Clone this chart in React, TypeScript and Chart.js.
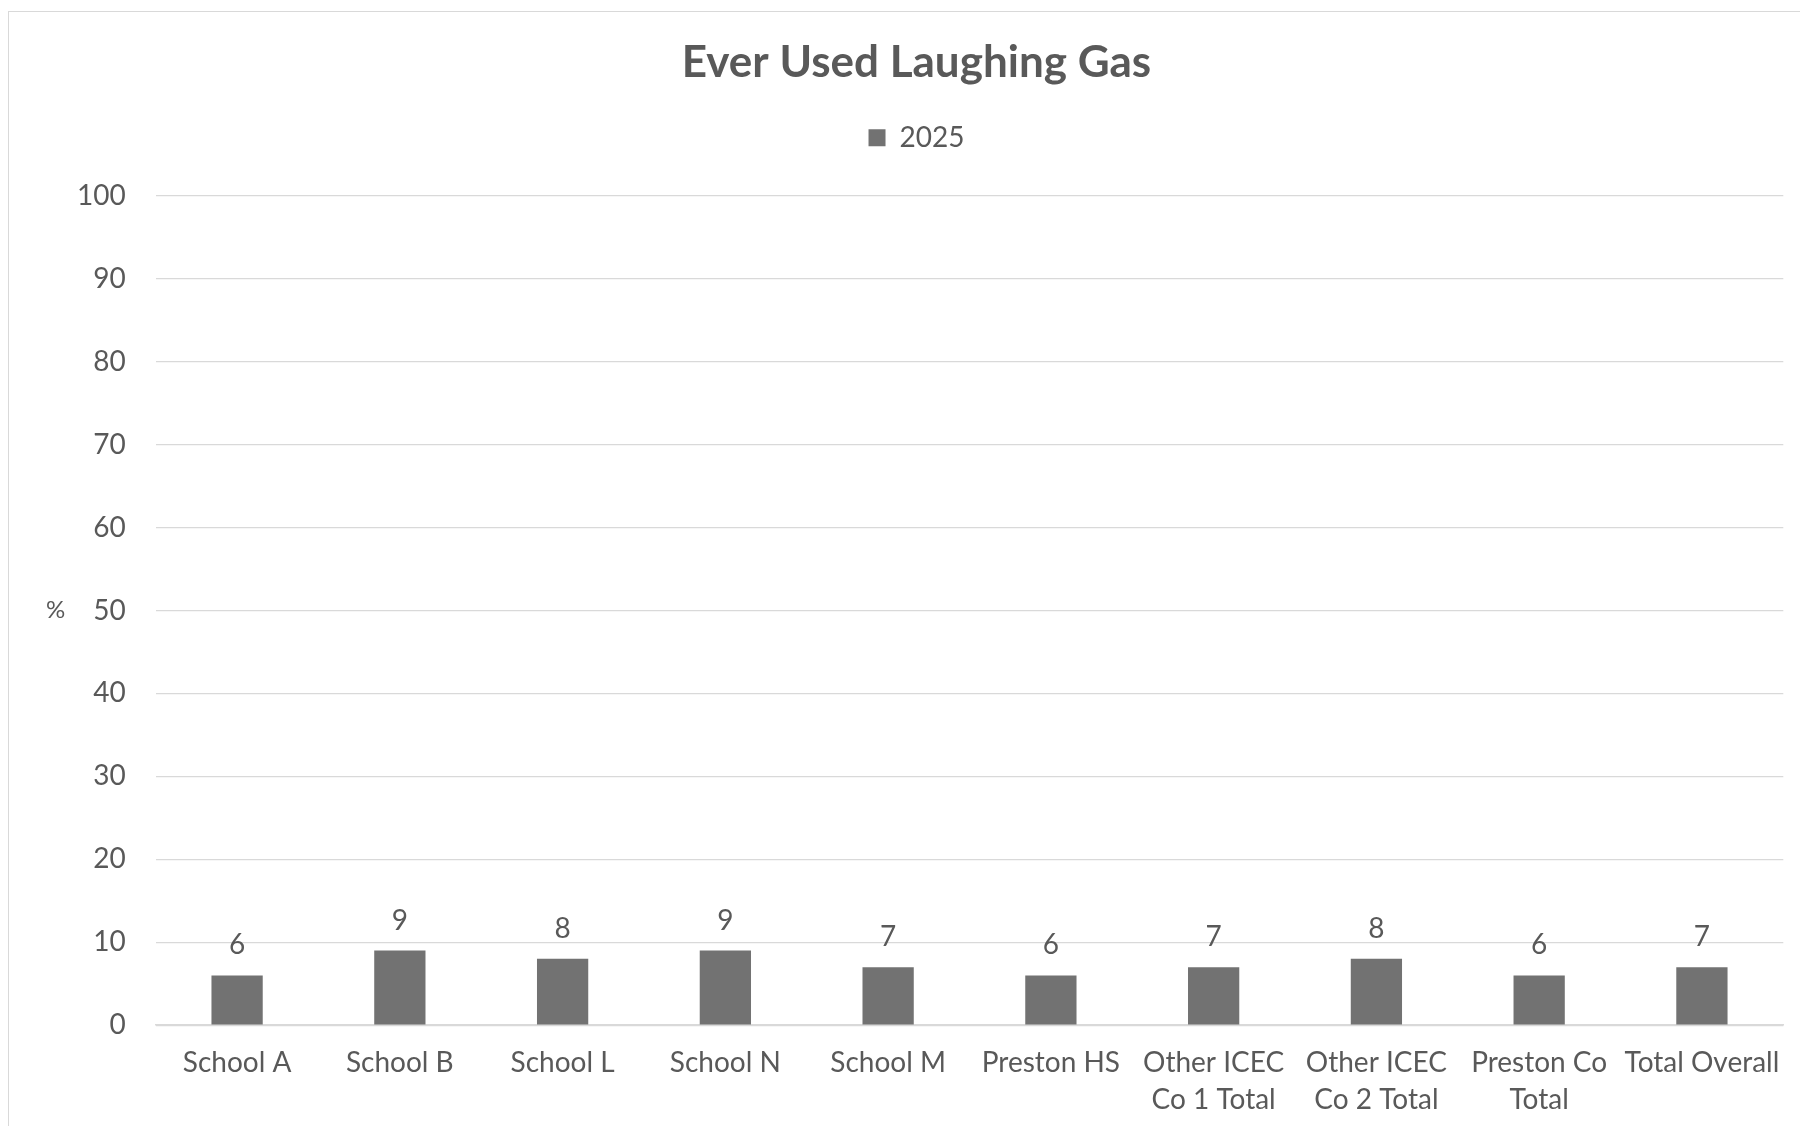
import React, { useEffect, useRef } from "react";
import { Chart, registerables } from "chart.js";

Chart.register(...registerables);

const categories: (string | string[])[] = [
  "School A",
  "School B",
  "School L",
  "School N",
  "School M",
  "Preston HS",
  ["Other ICEC", "Co 1 Total"],
  ["Other ICEC", "Co 2 Total"],
  ["Preston Co", "Total"],
  "Total Overall",
];
const values2025 = [6, 9, 8, 9, 7, 6, 7, 8, 6, 7];
const seriesLabel = "2025";
const chartTitle = "Ever Used Laughing Gas";
const yAxisLabel = "%";
const yMin = 0;
const yMax = 100;
const yStep = 10;

const TEXT = "#595959";
const BAR = "#727272";
const GRID = "#d9d9d9";
const FONT = "Lato, 'Open Sans', sans-serif";

const dataLabelPlugin = {
  id: "dataLabels",
  afterDatasetsDraw(chart: any) {
    const ctx = chart.ctx;
    ctx.save();
    ctx.font = `28px ${FONT}`;
    ctx.fillStyle = TEXT;
    ctx.textAlign = "center";
    ctx.textBaseline = "alphabetic";
    chart.data.datasets.forEach((ds: any, di: number) => {
      const meta = chart.getDatasetMeta(di);
      meta.data.forEach((el: any, i: number) => {
        ctx.fillText(String(ds.data[i]), el.x, el.y - 21);
      });
    });
    ctx.restore();
  },
};

const yTitlePlugin = {
  id: "yTitle",
  afterDraw(chart: any) {
    const ctx = chart.ctx;
    const area = chart.chartArea;
    ctx.save();
    ctx.font = `24px ${FONT}`;
    ctx.fillStyle = TEXT;
    ctx.textAlign = "center";
    ctx.textBaseline = "middle";
    ctx.fillText(yAxisLabel, area.left - 100, (area.top + area.bottom) / 2);
    ctx.restore();
  },
};

const legendSpacePlugin = {
  id: "legendSpace",
  beforeLayout(chart: any) {
    const legend = chart.legend;
    if (legend && !legend.__extraSpace) {
      const origFit = legend.fit;
      legend.fit = function () {
        origFit.call(this);
        this.height += 34;
      };
      legend.__extraSpace = true;
    }
  },
};

export default function App() {
  const ref = useRef<HTMLCanvasElement | null>(null);

  useEffect(() => {
    if (!ref.current) return;
    const chart = new Chart(ref.current, {
      type: "bar",
      data: {
        labels: categories,
        datasets: [
          {
            label: seriesLabel,
            data: values2025,
            backgroundColor: BAR,
            borderWidth: 0,
            barPercentage: 0.315,
            categoryPercentage: 1,
          },
        ],
      },
      options: {
        responsive: false,
        animation: false,
        layout: { padding: { left: 38, right: 14, top: 0, bottom: 10 } },
        plugins: {
          title: {
            display: true,
            text: chartTitle,
            color: TEXT,
            font: { family: FONT, size: 44, weight: "bold", lineHeight: 1.2 },
            padding: { top: 24, bottom: 25 },
          },
          legend: {
            display: true,
            position: "top",
            labels: {
              color: TEXT,
              font: { family: FONT, size: 28 },
              boxWidth: 17,
              boxHeight: 17,
              padding: 10,
            },
          },
          tooltip: { enabled: false },
        },
        scales: {
          x: {
            grid: { display: false, drawTicks: false },
            border: { display: true, color: GRID, width: 1.5 },
            ticks: {
              color: TEXT,
              font: { family: FONT, size: 28, lineHeight: 1.3 },
              padding: 20,
              autoSkip: false,
              maxRotation: 0,
              minRotation: 0,
            },
          },
          y: {
            min: yMin,
            max: yMax,
            grid: { color: GRID, lineWidth: 1.2, drawTicks: false },
            border: { display: false },
            ticks: {
              stepSize: yStep,
              color: TEXT,
              font: { family: FONT, size: 28 },
              padding: 30,
            },
          },
        },
      },
      plugins: [dataLabelPlugin, yTitlePlugin, legendSpacePlugin],
    });
    return () => chart.destroy();
  }, []);

  return (
    <div
      style={{
        position: "absolute",
        left: 8,
        top: 11,
        width: 1792,
        height: 1115,
        overflow: "hidden",
        borderLeft: "1px solid #d9d9d9",
        borderTop: "1px solid #d9d9d9",
        background: "#fff",
      }}
    >
      <canvas ref={ref} width={1791} height={1136} style={{ display: "block" }} />
    </div>
  );
}
